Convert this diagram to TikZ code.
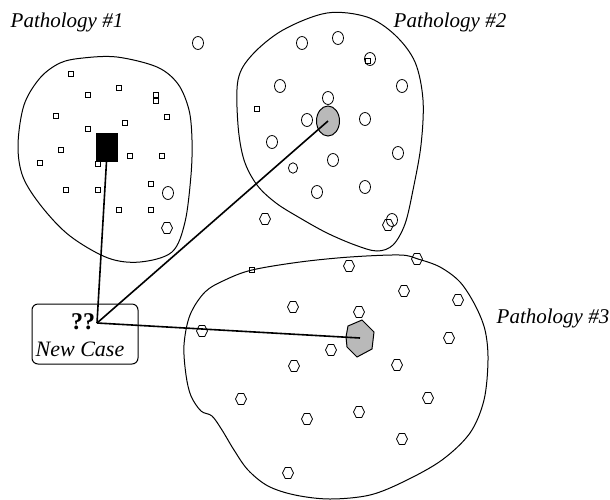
\documentclass[tikz,border=0pt]{standalone}
\usepackage{fontspec}
\setmainfont{Liberation Serif}
\usetikzlibrary{shapes.geometric}
\begin{document}
\begin{tikzpicture}[x=0.5pt,y=-0.5pt,
  blob/.style={line width=0.5pt, smooth cycle, tension=0.55},
  marker/.style={line width=0.4pt},
  link/.style={line width=0.8pt},
  lab/.style={font=\itshape\fontsize{10.5}{12}\selectfont, inner sep=0pt},
  probe/.style={draw, line width=0.5pt},
  shade/.style={fill=gray!55}]
\useasboundingbox (0,0) rectangle (610,499);

% cluster outlines
\draw[blob] plot coordinates {(83,58) (117,57) (157,67) (178,84) (189,110) (192,140)
  (191,175) (185,222) (172,252) (140,262) (108,258) (70,236) (42,207) (23,177)
  (18,145) (24,105) (40,78) (60,63)};
\draw[blob] plot coordinates {(238,80) (252,55) (283,30) (327,13) (367,17) (395,35)
  (415,62) (423,100) (421,145) (413,190) (405,224) (393,245) (377,251) (355,245)
  (327,233) (300,218) (276,203) (257,185) (244,160) (238,125)};
\draw[blob] plot coordinates {(252,270) (300,262) (350,257) (400,255) (418,259)
  (440,267) (460,282) (475,305) (485,330) (488,360) (484,400) (470,433) (442,460)
  (405,481) (370,495) (330,499) (295,495) (268,486) (248,470) (234,450) (222,430)
  (212,416) (201,411) (191,396) (186,375) (184,345) (190,315) (205,292) (225,280)};

% square cases
\foreach \x/\y in {71/74, 88/95, 119/88, 156/94.5, 156/101, 56/116, 167/117,
  125/123, 88/129, 61/150, 40/163, 98/164, 130/156, 162/156, 151/184, 66/190,
  98/190, 119/210, 151/210, 257/109, 368/61, 252/270}
  \draw[marker] (\x-2.5,\y-2.5) rectangle (\x+2.5,\y+2.5);

% round cases
\foreach \x/\y in {198/43, 168/193, 302/43, 338/38, 370/59, 280/86, 402/86,
  328/98, 307/120, 365/119, 272/142, 398/153, 333/160, 317/192, 365/187, 392/220}
  \draw[marker] (\x,\y) ellipse [x radius=2.75pt, y radius=3.25pt];
\draw[marker] (293,168) ellipse [x radius=2.3pt, y radius=2.6pt];

% hexagonal cases
\foreach \x/\y in {167/228, 265/219, 388/225, 349/266, 417/259, 404/291, 458/300,
  293/307, 359/312, 202/331, 449/338, 331/350, 294/366, 397/365, 241/399,
  428/398, 359/412, 307/419, 402/439, 288/473}
  \draw[marker, shift={(\x,\y)}] (-5.5,0) -- (-2.75,-5.5) -- (2.75,-5.5)
    -- (5.5,0) -- (2.75,5.5) -- (-2.75,5.5) -- cycle;

% retrieved nearest cases
\node[probe, fill=black, minimum width=10.5pt, minimum height=14pt, inner sep=0pt]
  (best1) at (106.5,147) {};
\node[probe, shade, ellipse, minimum width=11.5pt, minimum height=15pt, inner sep=0pt]
  (best2) at (328,121) {};
\draw[line width=0.5pt, shade] (348,326) -- (362,320) -- (374,332) -- (372,349)
  -- (357,357) -- (347,347) -- (346,337) -- cycle;
\coordinate (best3) at (360,338);

% new case box
\node[draw, line width=0.5pt, rounded corners=3pt, minimum width=53pt,
  minimum height=30pt, inner sep=0pt] (box) at (85,334) {};
\node[font=\bfseries\fontsize{12}{14}\selectfont, inner sep=0pt] (qq) at (83,322) {??};
\node[lab, font=\itshape\fontsize{11}{13}\selectfont] (nc) at (80,349) {New Case};
\coordinate (query) at (97,323);

% links from the new case
\draw[link] (query) -- (best1.south);
\draw[link] (query) -- (best2.center);
\draw[link] (query) -- (best3);

% cluster labels
\node[lab] (t1) at (67,22) {Pathology \#1};
\node[lab] (t2) at (450,22) {Pathology \#2};
\node[lab] (t3) at (553,318) {Pathology \#3};
\end{tikzpicture}
\end{document}
